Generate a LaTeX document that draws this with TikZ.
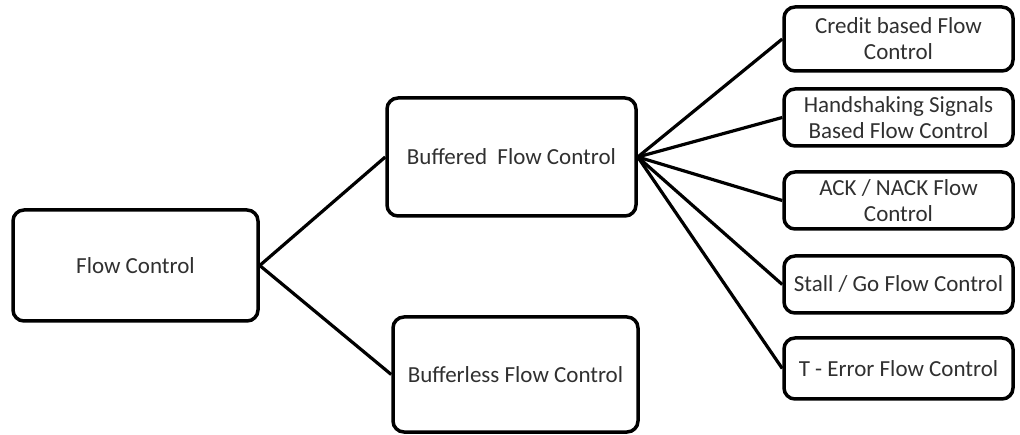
\documentclass[tikz,border=0pt]{standalone}
\usepackage{fontspec}
\setmainfont{Carlito}
\usepackage{xcolor}
\usetikzlibrary{positioning}
\definecolor{flowink}{HTML}{303030}

\tikzset{
  flowbox/.style={draw=black, line width=3.5pt, rounded corners=11pt,
    fill=white, align=center, text=flowink, inner sep=2pt,
    font=\fontsize{23}{26}\selectfont},
  flowlink/.style={draw=black, line width=3.2pt}
}

\begin{document}
\begin{tikzpicture}[x=1pt, y=-1pt]
        \useasboundingbox (0,0) rectangle (1020,435);
        % root and the two main branches
        \node[flowbox, minimum width=245pt, minimum height=111pt] (fc)  at (135.5,265.5) {Flow Control};
        \node[flowbox, minimum width=249pt, minimum height=118pt] (buf) at (511.5,157)   {Buffered~ Flow Control};
        \node[flowbox, minimum width=245pt, minimum height=115pt] (bfl) at (515.5,374.5) {Bufferless Flow Control};
        % buffered schemes
        \node[flowbox, minimum width=229pt, minimum height=64pt] (cred) at (898.5,39)    {Credit based Flow\\Control};
        \node[flowbox, minimum width=229pt, minimum height=57pt] (hand) at (898.5,117.5) {Handshaking Signals\\Based Flow Control};
        \node[flowbox, minimum width=229pt, minimum height=57pt] (ack)  at (898.5,200.5) {ACK / NACK Flow\\Control};
        \node[flowbox, minimum width=229pt, minimum height=57pt] (stal) at (898.5,284.5) {Stall / Go Flow Control};
        \node[flowbox, minimum width=229pt, minimum height=61pt] (terr) at (898.5,368.5) {T - Error Flow Control};
        % connectors
        \draw[flowlink] (fc.east) -- (buf.west);
        \draw[flowlink] (fc.east) -- (bfl.west);
        \foreach \leaf in {cred, hand, ack, stal, terr}
          \draw[flowlink] (buf.east) -- (\leaf.west);
      \end{tikzpicture}
\end{document}
